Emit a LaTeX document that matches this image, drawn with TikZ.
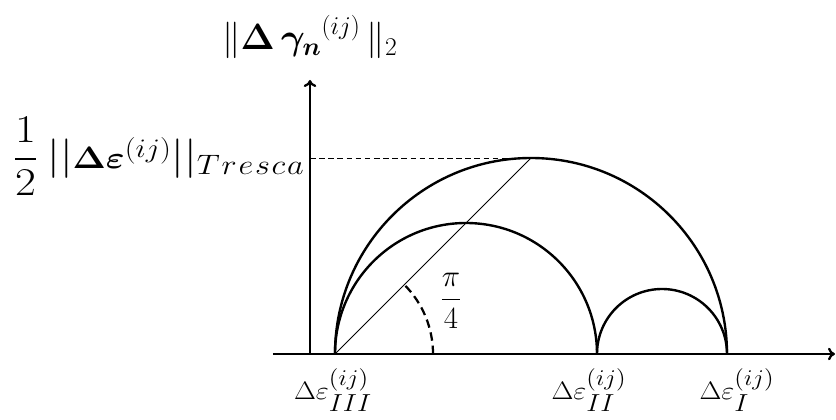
\RequirePackage{fix-cm}
\documentclass[tikz,border=0pt]{standalone}
\usepackage{amsmath,bm}
\usetikzlibrary{arrows.meta, positioning}
\newcommand{\sz}[1]{\fontsize{#1}{#1}\selectfont}
\newcommand{\epslbl}[1]{$\Delta\varepsilon^{\mbox{\sz{16}$(ij)$}}_{\mbox{\sz{17.5}$#1$}}$}

\begin{document}
\begin{tikzpicture}[
  axis/.style={line width=1.6pt,-{To[length=5pt,width=9pt]}},
  circ/.style={line width=1.7pt},
  thin line/.style={line width=0.6pt},
  guide/.style={line width=0.6pt,dash pattern=on 4pt off 2.5pt},
  angmark/.style={line width=1.6pt,dash pattern=on 6pt off 3.5pt},
  lbl/.style={inner sep=0pt,font=\sz{18}},
  elbl/.style={lbl,xscale=1.12}
]
  \useasboundingbox (-8.375,-1.625) rectangle (12.525,8.85);
  % points on the axis
  \coordinate (e3) at (0,0);
  \coordinate (e2) at (6.55,0);
  \coordinate (e1) at (9.8,0);
  \coordinate (top) at (4.9,4.9);
  \coordinate (o)  at (-0.625,0);
  \coordinate (xl) at (-1.55,0);
  \coordinate (xr) at (12.5,0);
  \coordinate (yt) at (-0.625,6.85);
  \coordinate (yh) at (-0.625,4.9);
  % axes
  \draw[axis](xl)--(xr);
  \draw[axis](o)--(yt);
  % Mohr circles
  \draw[circ](e1) arc[start angle=0,end angle=180,radius=4.9];
  \draw[circ](e2) arc[start angle=0,end angle=180,radius=3.275];
  \draw[circ](e1) arc[start angle=0,end angle=180,radius=1.625];
  \draw[thin line](e3)--(top);
  \draw[guide](yh)--(top);
  \draw[angmark]([shift={(2.45,0)}]e3) arc[start angle=0,end angle=45,radius=2.45];
  % labels
  \node[lbl,font=\sz{22}](ang) at (2.9,1.33) {$\dfrac{\pi}{4}$};
  \node[elbl](l3) at (-0.05,-0.9) {\epslbl{III}};
  \node[elbl](l2) at (6.35,-0.9) {\epslbl{II}};
  \node[elbl](l1) at (10.05,-0.9) {\epslbl{I}};
  \node[lbl,font=\sz{26}](ly) at (-0.625,7.92) {$\|{\bm{\Delta\,\gamma_n}}^{(ij)}\,\|_2$};
  \node[lbl,anchor=east,xscale=1.15,font=\sz{28}](lt) at (-0.75,4.94)
    {$\displaystyle\frac{1}{2}\hspace{6pt}||\mbox{\sz{22}$\bm{\Delta\varepsilon}^{\mbox{\sz{19}$(ij)$}}$}||_{\mbox{\sz{20}$T\mkern1mu r\mkern1mu e\mkern1mu s\mkern1mu c\mkern1mu a$}}$};
\end{tikzpicture}
\end{document}
